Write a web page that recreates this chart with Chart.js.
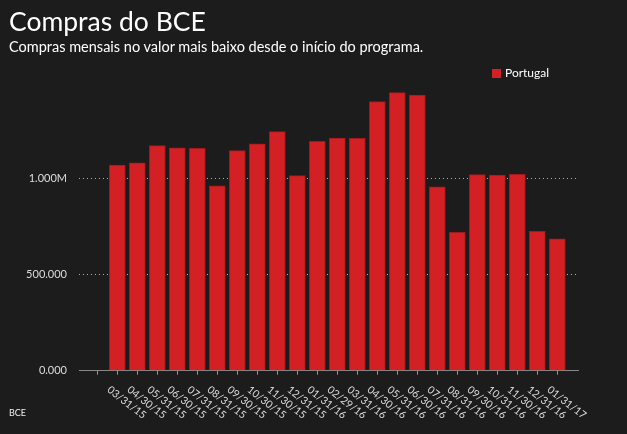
<!DOCTYPE html>
<html>
<head>
    <title>Compras do BCE</title>
    <script src="https://cdn.jsdelivr.net/npm/chart.js"></script>
    <style>
        html, body {
            margin: 0;
            padding: 0;
            background: #1c1c1c;
            font-family: Lato, "Open Sans", sans-serif;
            color: #fff;
            overflow: hidden;
        }
        #wrap {
            position: relative;
            width: 627px;
            height: 434px;
        }
        #title {
            position: absolute;
            left: 9px;
            top: 8px;
            font-size: 26.5px;
            line-height: 26px;
            font-weight: 400;
        }
        #subtitle {
            position: absolute;
            left: 9px;
            top: 39px;
            font-size: 14.5px;
            line-height: 15px;
        }
        #legend {
            position: absolute;
            left: 492px;
            top: 66px;
            font-size: 12px;
            line-height: 13px;
        }
        #legend span.box {
            display: inline-block;
            width: 9px;
            height: 9px;
            background: #d22024;
            margin-right: 4px;
            vertical-align: -1px;
        }
        #source {
            position: absolute;
            left: 9px;
            top: 407px;
            font-size: 9px;
            color: #eee;
        }
        canvas {
            position: absolute;
            left: 0;
            top: 0;
        }
    </style>
</head>
<body>
    <div id="wrap">
        <canvas id="myChart" width="627" height="434"></canvas>
        <div id="title">Compras do BCE</div>
        <div id="subtitle">Compras mensais no valor mais baixo desde o início do programa.</div>
        <div id="legend"><span class="box"></span>Portugal</div>
        <div id="source">BCE</div>
    </div>

    <script>
        // monthly purchases, Portugal
        const dates = [
            '03/31/15', '04/30/15', '05/31/15', '06/30/15', '07/31/15', '08/31/15',
            '09/30/15', '10/30/15', '11/30/15', '12/31/15', '01/31/16', '02/29/16',
            '03/31/16', '04/30/16', '05/31/16', '06/30/16', '07/31/16', '08/31/16',
            '09/30/16', '10/31/16', '11/30/16', '12/31/16', '01/31/17'
        ];
        const portugal = [
            1071000, 1082000, 1172000, 1161000, 1158000, 963000,
            1146000, 1182000, 1245000, 1016000, 1195000, 1212000,
            1210000, 1401000, 1448000, 1436000, 957000, 721000,
            1021000, 1019000, 1023000, 726000, 687000
        ];
        const yTicks = [0, 500000, 1000000];
        const yTickLabels = ['0.000', '500.000', '1.000M'];

        // rotated date labels under the axis (text runs down to the right)
        const dateLabels = {
            id: 'dateLabels',
            afterDraw(chart) {
                const ctx = chart.ctx;
                const x = chart.scales.x;
                const top = chart.chartArea.bottom + 13.5;
                ctx.save();
                ctx.fillStyle = '#dddddd';
                ctx.font = '10.5px Lato, "Open Sans", sans-serif';
                ctx.textAlign = 'left';
                ctx.textBaseline = 'top';
                dates.forEach((d, i) => {
                    ctx.save();
                    ctx.translate(x.getPixelForValue(i) - 5.5, top);
                    ctx.rotate(38 * Math.PI / 180);
                    ctx.fillText(d, 0, 0);
                    ctx.restore();
                });
                ctx.restore();
            }
        };

        const ctx = document.getElementById('myChart').getContext('2d');
        const myChart = new Chart(ctx, {
            type: 'bar',
            data: {
                datasets: [{
                    label: 'Portugal',
                    data: portugal.map((v, i) => ({ x: i, y: v })),
                    backgroundColor: '#d22024',
                    borderColor: '#a3181b',
                    borderWidth: 1,
                    borderSkipped: 'bottom',
                    barThickness: 16
                }]
            },
            options: {
                responsive: false,
                animation: false,
                devicePixelRatio: 1,
                layout: {
                    padding: { top: 85, right: 49, bottom: 0, left: 0 }
                },
                plugins: {
                    legend: { display: false },
                    title: { display: false },
                    tooltip: { enabled: false }
                },
                scales: {
                    x: {
                        type: 'linear',
                        offset: false,
                        min: -1.915,
                        max: 23.035,
                        afterBuildTicks: (scale) => {
                            scale.ticks = [];
                            for (let i = -1; i < dates.length; i++) scale.ticks.push({ value: i });
                        },
                        afterFit: (scale) => { scale.height = 63.3; },
                        ticks: { display: false },
                        grid: {
                            offset: false,
                            drawOnChartArea: false,
                            drawTicks: true,
                            tickLength: 4,
                            color: '#999999'
                        },
                        border: { color: '#888888', width: 1 }
                    },
                    y: {
                        min: 0,
                        max: 1488000,
                        afterBuildTicks: (scale) => {
                            scale.ticks = yTicks.map(v => ({ value: v }));
                        },
                        afterFit: (scale) => { scale.width = 79; },
                        ticks: {
                            color: '#dddddd',
                            padding: 12,
                            font: { family: 'Lato, "Open Sans", sans-serif', size: 11 },
                            callback: (value) => yTickLabels[yTicks.indexOf(value)]
                        },
                        grid: {
                            drawTicks: false,
                            color: (c) => c.tick && c.tick.value === 0 ? 'rgba(0,0,0,0)' : '#aaaaaa'
                        },
                        border: { display: false, dash: [1, 3] }
                    }
                }
            },
            plugins: [dateLabels]
        });
    </script>
</body>
</html>
